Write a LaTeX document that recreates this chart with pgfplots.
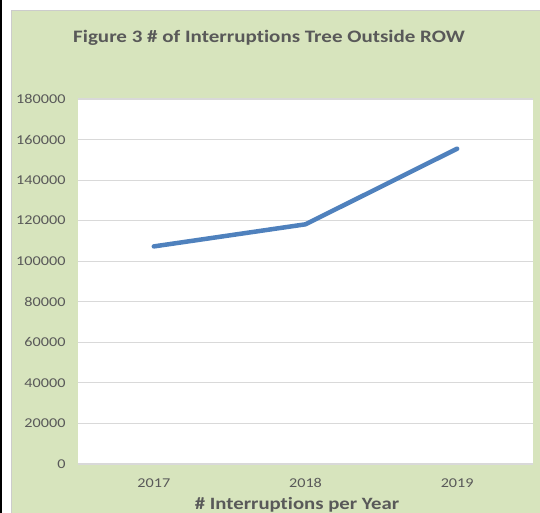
\documentclass[border=0pt]{standalone}
\usepackage{pgfplots}
\pgfplotsset{compat=1.18}
\usepackage{fontspec}
\setmainfont{Carlito}[FakeStretch=1.2,Ligatures=NoCommon]
\definecolor{bggreen}{HTML}{D7E4BD}
\definecolor{txtgray}{HTML}{595959}
\definecolor{gridgray}{HTML}{D9D9D9}
\definecolor{lineblue}{HTML}{4F81BD}
\begin{document}
\begin{tikzpicture}[x=1pt,y=1pt]
\useasboundingbox (0,0) rectangle (540,513);
\fill[white] (0,0) rectangle (540,513);
\fill[bggreen] (12,0) rectangle (540,502);
\draw[gray!40,line width=1pt] (11.5,0) -- (11.5,502.5) -- (540,502.5);
\fill[black] (0,0) rectangle (2,513);
\node[txtgray,font=\fontsize{17.5}{20}\selectfont\bfseries,anchor=base] at (269,470) {Figure 3 \# of Interruptions Tree Outside ROW};
\node[txtgray,font=\fontsize{17.3}{20}\selectfont\bfseries,anchor=base] at (297,3) {\# Interruptions per Year};
\begin{axis}[
  at={(78pt,49pt)}, anchor=south west,
  scale only axis, width=455pt, height=365pt,
  xmin=-0.5, xmax=2.5, ymin=0, ymax=180000,
  xtick={0,1,2}, xticklabels={2017,2018,2019},
  ytick={0,20000,...,180000},
  scaled y ticks=false,
  yticklabel style={/pgf/number format/fixed,/pgf/number format/1000 sep={}},
  /pgf/number format/assume math mode=true,
  tick label style={txtgray,font=\fontsize{13.5}{16}\selectfont},
  xticklabel style={yshift=-11pt},
  yticklabel style={xshift=-9pt},
  axis background/.style={fill=white},
  axis line style={draw=none},
  major tick length=0pt,
  ymajorgrids, grid style={gridgray,line width=1.2pt},
  clip=false,
]
\addplot[lineblue,line width=4.5pt,line cap=round,line join=round] coordinates {(0,107300) (1,118200) (2,155500)};
\end{axis}
\end{tikzpicture}
\end{document}
